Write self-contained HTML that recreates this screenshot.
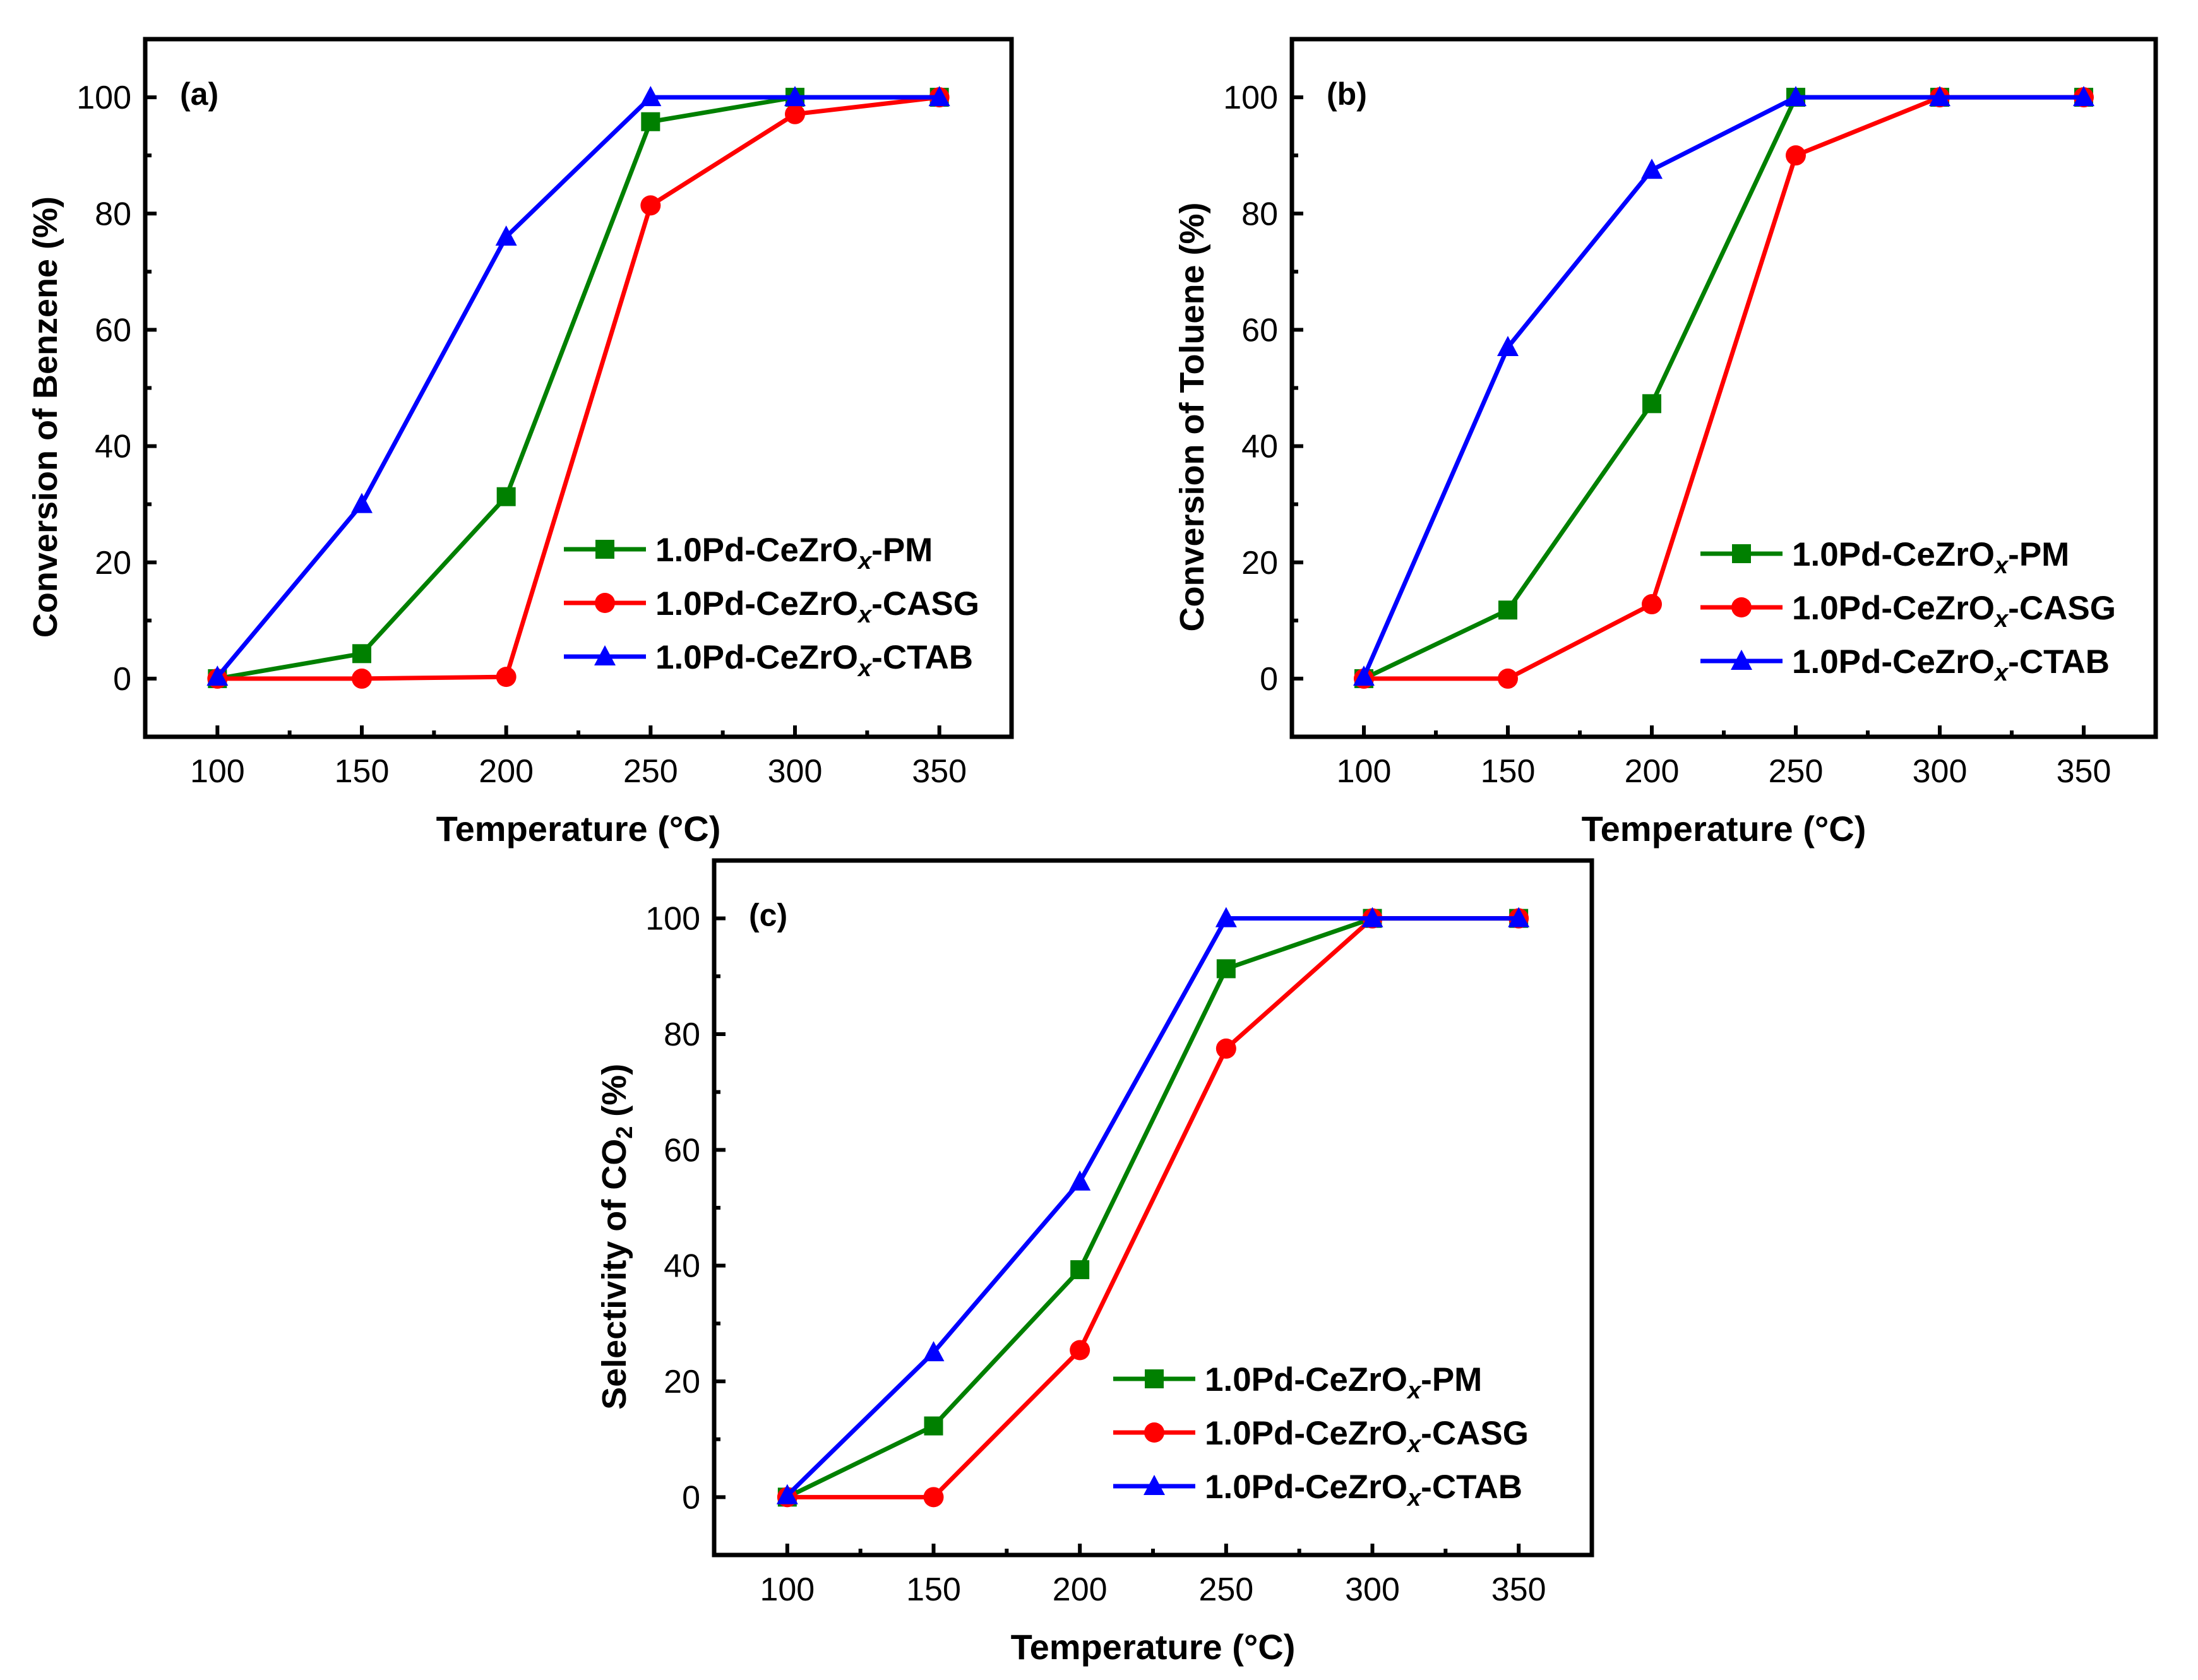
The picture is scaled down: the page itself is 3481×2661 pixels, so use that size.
<!DOCTYPE html>
<html><head><meta charset="utf-8"><style>
html,body{margin:0;padding:0;background:#fff;}
svg{display:block;}
text{font-family:"Liberation Sans",sans-serif;}
</style></head><body>
<svg id="chart" width="3481" height="2661" viewBox="0 0 3481 2661" xmlns="http://www.w3.org/2000/svg"></svg>
<script>
const temps = [100,150,200,250,300,350];
const xTicks = [100,150,200,250,300,350];
const yTicks = [0,20,40,60,80,100];
const seriesNames = ['1.0Pd-CeZrOx-PM','1.0Pd-CeZrOx-CASG','1.0Pd-CeZrOx-CTAB'];
const benzenePM = [0,4.3,31.3,95.8,100,100];
const benzeneCASG = [0,0,0.3,81.4,97.1,100];
const benzeneCTAB = [0.3,30,76,100,100,100];
const toluenePM = [0,11.8,47.3,100,100,100];
const tolueneCASG = [0,0,12.8,90,100,100];
const tolueneCTAB = [0.3,57,87.5,100,100,100];
const co2PM = [0,12.3,39.3,91.3,100,100];
const co2CASG = [0,0,25.4,77.5,100,100];
const co2CTAB = [0.3,25,54.5,100,100,100];

const NS='http://www.w3.org/2000/svg';
const svg=document.getElementById('chart');
function mk(tag,attrs,parent){const e=document.createElementNS(NS,tag);for(const k in attrs)e.setAttribute(k,attrs[k]);(parent||svg).appendChild(e);return e;}

const colors=['#008000','#ff0000','#0000ff'];
const markers=['square','circle','triangle'];

function marker(g,type,cx,cy,col){
  let m;
  if(type==='square') m=mk('rect',{x:cx-15,y:cy-15,width:30,height:30,fill:col},g);
  else if(type==='circle') m=mk('circle',{cx:cx,cy:cy,r:16,fill:col},g);
  else m=mk('polygon',{points:`${cx},${cy-18} ${cx-17},${cy+14} ${cx+17},${cy+14}`,fill:col},g);
  return m;
}

function panel(id,L,R,T,B,label,ytitle,sub,data,legX,legY){
  const g=mk('g',{});
  
  
  const sx=v=>L+(v-75)/(375-75)*(R-L);
  const sy=v=>B-(v+10)/(120)*(B-T);
  for(let v=-10;v<=110;v+=10){
    if(v===-10||v===110)continue;
    const major=v%20===0;
    mk('line',{x1:L,x2:L+(major?18:10),y1:sy(v),y2:sy(v),stroke:'#000','stroke-width':6},g);
  }
  yTicks.forEach(v=>{
    const t=mk('text',{x:L-22,y:sy(v)+18,'font-size':52,'text-anchor':'end'},g);
    
    
    t.textContent=v;
  });
  for(let v=100;v<=350;v+=25){
    const major=v%50===0;
    mk('line',{x1:sx(v),x2:sx(v),y1:B,y2:B-(major?18:10),stroke:'#000','stroke-width':6},g);
  }
  xTicks.forEach(v=>{
    const t=mk('text',{x:sx(v),y:B+72,'font-size':52,'text-anchor':'middle'},g);
    
    
    t.textContent=v;
  });
  data.forEach((arr,i)=>{
    const sg=mk('g',{},g);
    
    
    mk('polyline',{points:arr.map((v,j)=>sx(temps[j])+','+sy(v)).join(' '),fill:'none',stroke:colors[i],'stroke-width':7},sg);
    arr.forEach((v,j)=>{
      const m=marker(sg,markers[i],sx(temps[j]),sy(v),colors[i]);
      
      
    });
  });
  const f=mk('rect',{x:L,y:T,width:R-L,height:B-T,fill:'none',stroke:'#000','stroke-width':7},g);
  
  
  const pl=mk('text',{x:L+55,y:sy(100)+12,'font-size':50,'font-weight':'bold'},g);
  
  
  pl.textContent=label;
  const xt=mk('text',{x:(L+R)/2,y:B+165,'font-size':56,'font-weight':'bold','text-anchor':'middle'},g);
  
  
  xt.textContent='Temperature (°C)';
  const yt=mk('text',{x:0,y:0,'font-size':54,'font-weight':'bold','text-anchor':'middle',transform:`translate(${L-140},${sy(45)}) rotate(-90)`},g);
  
  
  if(sub){yt.innerHTML='Selectivity of CO<tspan font-size="36" dy="10">2</tspan><tspan dy="-10"> (%)</tspan>';}
  else yt.textContent=ytitle;
  for(let i=0;i<3;i++){
    const lg=mk('g',{},g);
    
    
    const y=legY+i*85;
    mk('line',{x1:legX,x2:legX+130,y1:y,y2:y,stroke:colors[i],'stroke-width':7},lg);
    marker(lg,markers[i],legX+65,y,colors[i]);
    const t=mk('text',{x:legX+145,y:y+19,'font-size':53,'font-weight':'bold'},lg);
    const suf=seriesNames[i].split('-')[2];
    t.innerHTML='1.0Pd-CeZrO<tspan font-style="italic" font-size="38" dy="12">x</tspan><tspan dy="-12">-'+suf+'</tspan>';
  }
}

panel('a',230,1602,62,1167,'(a)','Conversion of Benzene (%)',false,[benzenePM,benzeneCASG,benzeneCTAB],893,870);
panel('b',2046,3414,62,1167,'(b)','Conversion of Toluene (%)',false,[toluenePM,tolueneCASG,tolueneCTAB],2693,877);
panel('c',1131,2521,1363,2463,'(c)','Selectivity of CO2 (%)',true,[co2PM,co2CASG,co2CTAB],1763,2184);
</script>
</body></html>
